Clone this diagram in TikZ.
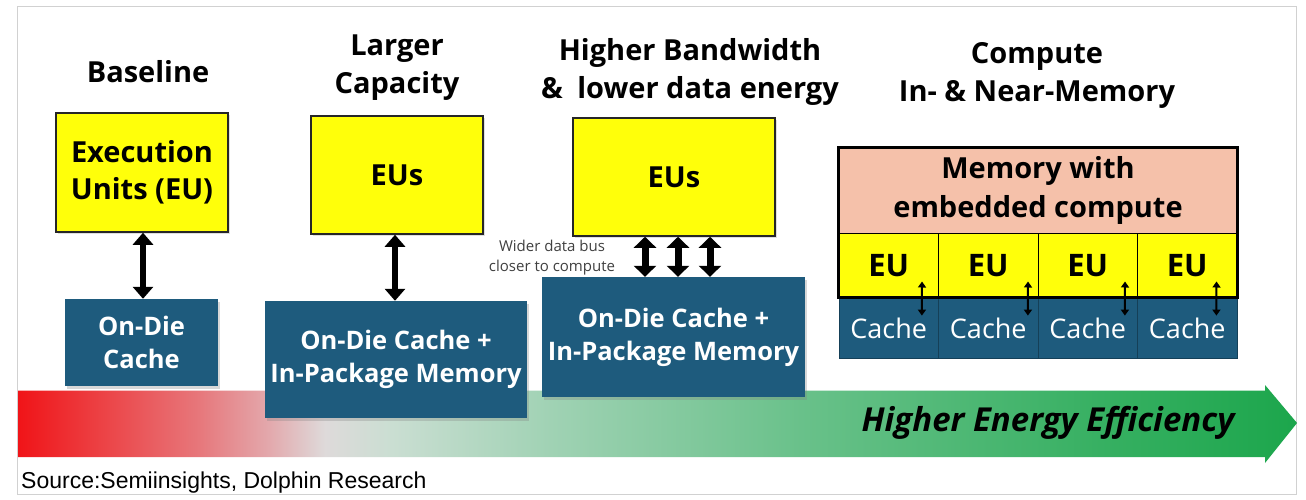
\documentclass[tikz,border=0pt]{standalone}
\usepackage{fontspec}
\setmainfont{Open Sans}
\newfontfamily\arialf{Liberation Sans}
\usetikzlibrary{arrows.meta,shadows}
\definecolor{cacheblue}{RGB}{30,91,125}
\definecolor{peach}{RGB}{245,193,170}
\definecolor{euyellow}{RGB}{255,255,10}
\definecolor{g0}{RGB}{240,20,24}
\definecolor{g1}{RGB}{236,65,68}
\definecolor{g2}{RGB}{231,118,122}
\definecolor{g3}{RGB}{227,168,172}
\definecolor{g4}{RGB}{222,218,218}
\definecolor{g5}{RGB}{202,222,210}
\definecolor{g6}{RGB}{160,210,180}
\definecolor{g7}{RGB}{105,193,138}
\definecolor{g8}{RGB}{55,176,98}
\definecolor{g9}{RGB}{28,166,76}
\pgfdeclarehorizontalshading{effshade}{100bp}{color(0bp)=(g0); color(25bp)=(g0); color(28.2bp)=(g1); color(32bp)=(g2); color(34.8bp)=(g3); color(37bp)=(g4); color(39.6bp)=(g5); color(45.8bp)=(g6); color(55.6bp)=(g7); color(67.3bp)=(g8); color(75bp)=(g9); color(100bp)=(g9)}
\tikzset{
  eubox/.style={draw=black!85, line width=1.5, fill=euyellow, align=center,
    font=\bfseries\fontsize{29}{37}\selectfont, inner sep=0,
    drop shadow={shadow xshift=2pt, shadow yshift=-2pt, opacity=0.25}},
  cachebox/.style={fill=cacheblue, text=white, align=center,
    font=\bfseries\fontsize{25.5}{33}\selectfont, inner sep=0,
    drop shadow={shadow xshift=2pt, shadow yshift=-3pt, opacity=0.3}},
  ttl/.style={align=center, font=\bfseries\fontsize{29}{38}\selectfont},
  bigarrow/.style={line width=6.5, {Triangle[length=12,width=20]}-{Triangle[length=12,width=20]}},
  smallarrow/.style={line width=2, {Triangle[length=6,width=8]}-{Triangle[length=6,width=8]}},
  memcell/.style={fill=euyellow, draw=black, line width=1, minimum width=99.5, minimum height=65,
    inner sep=0, font=\bfseries\fontsize{31}{34}\selectfont},
  cachecell/.style={fill=cacheblue, draw=cacheblue!70!black, line width=0.8, minimum width=99.5, minimum height=60,
    inner sep=0, text=white, font=\fontsize{27}{30}\selectfont},
}
\begin{document}
\begin{tikzpicture}[x=1pt,y=-1pt]
\useasboundingbox (0,0) rectangle (1306,500);
\fill[white] (0,0) rectangle (1306,500);
\draw[black!18, line width=1] (17,7) rectangle (1296,494);

% gradient arrow
\shade[shading=effshade] (18,390.5) -- (1265,390.5) -- (1265,385) -- (1297,423) -- (1265,463) -- (1265,457) -- (18,457) -- cycle;
\node[font=\bfseries\itshape\fontsize{33}{38}\selectfont] (eff) at (1048,423) {Higher Energy Efficiency};

% titles
\node[ttl] (t1) at (148,72) {Baseline};
\node[ttl] (t2) at (397,68) {Larger\\Capacity};
\node[ttl] (t3) at (690,71.5) {Higher Bandwidth\\\&\enspace lower data energy};
\node[ttl] (t4) at (1037,75.5) {Compute\\In- \& Near-Memory};

% column 1
\node[eubox, minimum width=172, minimum height=119] (eu1) at (142,172.5) {Execution\\Units (EU)};
\node[cachebox, minimum width=153, minimum height=87] (c1) at (141.5,342.5) {On-Die\\Cache};
\draw[bigarrow] ([xshift=1]eu1.south) -- ([xshift=1]eu1.south |- c1.north);

% column 2
\node[eubox, minimum width=172, minimum height=118] (eu2) at (397,175) {EUs};
\node[cachebox, minimum width=262, minimum height=117] (c2) at (396,359.5) {On-Die Cache +\\In-Package Memory};
\draw[bigarrow] ([xshift=-2]eu2.south) -- ([xshift=-2]eu2.south |- c2.north);

% column 3
\node[eubox, minimum width=202, minimum height=118] (eu3) at (674,177) {EUs};
\node[cachebox, minimum width=263, minimum height=120] (c3) at (673.5,337) {On-Die Cache +\\In-Package Memory};
\foreach \dx in {-29,4,36}{
  \draw[line width=7, {Triangle[length=11,width=22]}-{Triangle[length=11,width=22]}] ([xshift=\dx]eu3.south) -- ([xshift=\dx]eu3.south |- c3.north);
}
\node[font=\fontsize{15}{20}\selectfont, align=center, text=black!75] (wide) at (552,258) {Wider data bus\\closer to compute};

% column 4
\node[fill=peach, minimum width=398, minimum height=85, inner sep=0, align=center,
  font=\bfseries\fontsize{29}{39}\selectfont] (mem) at (1038,190.5) {Memory with\\embedded compute};
\foreach \i in {1,...,4}{
  \node[memcell] (e\i) at ({839+(\i-0.5)*99.5},265.5) {EU};
  \node[cachecell] (k\i) at ({839+(\i-0.5)*99.5},328) {Cache};
}
\draw[black, line width=3] (mem.north west) rectangle (k4.north east);
\draw[line width=3] (k1.north west) -- (k4.north east);
\draw[smallarrow] ([xshift=-17,yshift=17]e1.south east) -- ([xshift=-17,yshift=-18]k1.north east);
\draw[smallarrow] ([xshift=-10.5,yshift=17]e2.south east) -- ([xshift=-10.5,yshift=-18]k2.north east);
\draw[smallarrow] ([xshift=-13,yshift=17]e3.south east) -- ([xshift=-13,yshift=-18]k3.north east);
\draw[smallarrow] ([xshift=-21,yshift=17]e4.south east) -- ([xshift=-21,yshift=-18]k4.north east);

% source
\node[anchor=base west, font=\arialf\fontsize{23}{26}\selectfont, inner sep=0] (src) at (21,488) {Source:Semiinsights, Dolphin Research};
\end{tikzpicture}
\end{document}
